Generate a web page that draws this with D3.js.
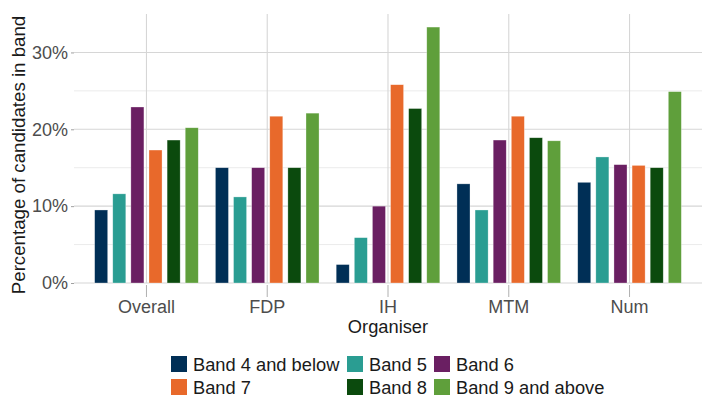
<!DOCTYPE html>
<html>
<head>
<meta charset="utf-8">
<script src="https://cdn.jsdelivr.net/npm/d3@7"></script>
<style>
  body { margin: 0; background: #fff; }
  text { font-family: "Liberation Sans", Arial, sans-serif; }
</style>
</head>
<body>
<svg id="chart"></svg>
<script>
// data
const organisers = ["Overall", "FDP", "IH", "MTM", "Num"];
const bands = ["Band 4 and below", "Band 5", "Band 6", "Band 7", "Band 8", "Band 9 and above"];
const band4 = [0.095, 0.150, 0.024, 0.129, 0.131];
const band5 = [0.116, 0.112, 0.059, 0.095, 0.164];
const band6 = [0.229, 0.150, 0.100, 0.186, 0.154];
const band7 = [0.173, 0.217, 0.258, 0.217, 0.153];
const band8 = [0.186, 0.150, 0.227, 0.189, 0.150];
const band9 = [0.202, 0.221, 0.333, 0.185, 0.249];
const yTicks = [0, 0.1, 0.2, 0.3];
const yMinor = [0.05, 0.15, 0.25];

const series = [band4, band5, band6, band7, band8, band9];
const colors = ["#002f56", "#2a9d92", "#6a1f62", "#e8692b", "#0b4a0d", "#5f9f3b"];

const width = 718, height = 414;
const pLeft = 74, pRight = 702, pTop = 14, pBottom = 283;

const svg = d3.select("#chart").attr("width", width).attr("height", height);

const x = d3.scaleBand().domain(organisers).range([pLeft, pRight])
    .paddingInner(0.1).paddingOuter(0.15);
const xb = d3.scaleBand().domain(bands).range([0, x.bandwidth()])
    .paddingInner(0.28).paddingOuter(0.14);
const y = d3.scaleLinear().domain([0, 0.35]).range([pBottom, pTop]);
const color = d3.scaleOrdinal().domain(bands).range(colors);

// grid
svg.append("g").selectAll("line").data(yMinor).join("line")
    .attr("x1", pLeft).attr("x2", pRight)
    .attr("y1", d => y(d)).attr("y2", d => y(d))
    .attr("stroke", "#ebebeb").attr("stroke-width", 1);
svg.append("g").selectAll("line").data(yTicks).join("line")
    .attr("x1", pLeft).attr("x2", pRight)
    .attr("y1", d => y(d)).attr("y2", d => y(d))
    .attr("stroke", "#d6d6d6").attr("stroke-width", 1.1);
svg.append("g").selectAll("line").data(organisers).join("line")
    .attr("x1", d => x(d) + x.bandwidth() / 2).attr("x2", d => x(d) + x.bandwidth() / 2)
    .attr("y1", pTop).attr("y2", pBottom)
    .attr("stroke", "#d6d6d6").attr("stroke-width", 1.1);

// bars
const rows = [];
organisers.forEach((o, i) => {
    bands.forEach((b, j) => rows.push({org: o, band: b, value: series[j][i]}));
});
svg.append("g").selectAll("rect").data(rows).join("rect")
    .attr("x", d => x(d.org) + xb(d.band))
    .attr("width", xb.bandwidth())
    .attr("y", d => y(d.value))
    .attr("height", d => y(0) - y(d.value))
    .attr("fill", d => color(d.band))
    .attr("stroke", "#ffffff").attr("stroke-opacity", 0.5).attr("stroke-width", 0.6);

// y axis
const yAxis = svg.append("g").attr("transform", `translate(${pLeft},0)`)
    .call(d3.axisLeft(y).tickValues(yTicks).tickFormat(d3.format(".0%")).tickSize(3).tickPadding(3));
yAxis.select(".domain").remove();
yAxis.selectAll("line").attr("stroke", "#a0a0a0");
yAxis.selectAll("text").attr("font-size", 18).attr("fill", "#4d4d4d")
    .style("font-family", "'Liberation Sans', Arial, sans-serif");

// x axis
const xAxis = svg.append("g").attr("transform", `translate(0,${pBottom + 2})`)
    .call(d3.axisBottom(x).tickSize(12).tickPadding(3));
xAxis.select(".domain").remove();
xAxis.selectAll("line").attr("stroke", "#b0b0b0");
xAxis.selectAll("text").attr("font-size", 18).attr("fill", "#4d4d4d")
    .style("font-family", "'Liberation Sans', Arial, sans-serif");

// axis titles
svg.append("text").text("Organiser")
    .attr("x", (pLeft + pRight) / 2).attr("y", 333)
    .attr("text-anchor", "middle").attr("font-size", 18.3).attr("fill", "#1a1a1a");
svg.append("text").text("Percentage of candidates in band")
    .attr("transform", `translate(25,155) rotate(-90)`)
    .attr("text-anchor", "middle").attr("font-size", 18.7).attr("fill", "#1a1a1a");

// legend
const colX = [171, 347, 434];
const rowY = [356, 379];
const legend = svg.append("g").selectAll("g").data(bands).join("g")
    .attr("transform", (d, i) => `translate(${colX[i % 3]},${rowY[Math.floor(i / 3)]})`);
legend.append("rect").attr("width", 16).attr("height", 16)
    .attr("fill", d => color(d));
legend.append("text").text(d => d)
    .attr("x", 22).attr("y", 14.5)
    .attr("font-size", 18.3).attr("fill", "#1a1a1a");
</script>
</body>
</html>
